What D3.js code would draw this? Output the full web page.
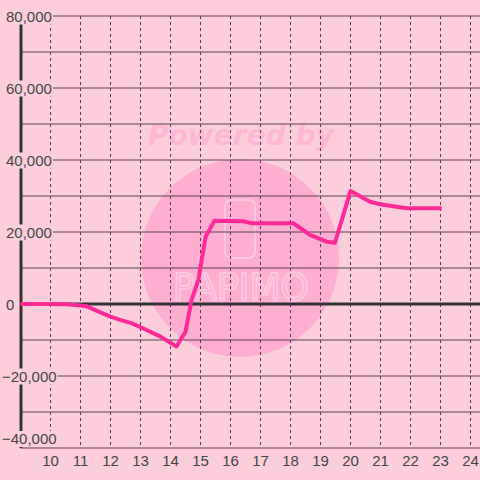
<!DOCTYPE html>
<html><head><meta charset="utf-8">
<script src="https://cdn.jsdelivr.net/npm/d3@7"></script>
<style>html,body{margin:0;padding:0;background:#fccedc;}svg{display:block;}</style>
</head><body><svg id="c" width="480" height="480"></svg>
<script>
const xTicks = [10,11,12,13,14,15,16,17,18,19,20,21,22,23,24];
const yGrid = [-40000,-30000,-20000,-10000,0,10000,20000,30000,40000,50000,60000,70000,80000];
const yLabels = [-40000,-20000,0,20000,40000,60000,80000];
const hours = [9,10,10.5,11,11.2,11.55,12,12.4,12.7,13.15,13.65,14.2,14.5,14.7,14.93,15.17,15.46,16.43,16.72,18.1,18.65,19.2,19.48,20,20.65,20.98,21.87,23.04];
const values = [0,0,-100,-400,-600,-1900,-3500,-4600,-5300,-7000,-9000,-11800,-7700,1000,6700,18700,23100,23000,22400,22400,19200,17300,17000,31400,28400,27700,26600,26600];

const svg = d3.select("#c");
const x = d3.scaleLinear().domain([9,24]).range([20.5,470.5]);
const y = d3.scaleLinear().domain([-40000,80000]).range([448,16]);
const fmt = d3.format(",");

// watermark
svg.append("circle").attr("cx",240).attr("cy",258).attr("r",99).attr("fill","#feaed0");
svg.append("text").attr("x",241).attr("y",145).attr("text-anchor","middle")
  .attr("font-family","DejaVu Sans").attr("font-weight","bold").attr("font-style","italic")
  .attr("font-size",29).attr("textLength",186).attr("lengthAdjust","spacingAndGlyphs")
  .attr("fill","#ffb6d4").text("Powered by");
svg.append("rect").attr("x",225).attr("y",200).attr("width",30).attr("height",58).attr("rx",6)
  .attr("fill","none").attr("stroke","#ffc6df").attr("stroke-width",2);
svg.append("text").attr("x",241).attr("y",300).attr("text-anchor","middle")
  .attr("font-family","DejaVu Sans").attr("font-size",38).attr("textLength",136).attr("lengthAdjust","spacingAndGlyphs")
  .attr("fill","none").attr("stroke","#ffc6df").attr("stroke-width",2).text("PAPIMO");

// vertical dotted grid
svg.append("g").selectAll("line").data(xTicks).join("line")
  .attr("x1",d=>x(d)).attr("x2",d=>x(d)).attr("y1",16).attr("y2",448)
  .attr("stroke","#5a3a4c").attr("stroke-width",1).attr("stroke-dasharray","3,3");
// horizontal grid
svg.append("g").selectAll("line").data(yGrid).join("line")
  .attr("x1",20.5).attr("x2",480).attr("y1",d=>y(d)).attr("y2",d=>y(d))
  .attr("stroke","#5c4052").attr("stroke-width",1);
// zero line
svg.append("line").attr("x1",20.5).attr("x2",480).attr("y1",y(0)).attr("y2",y(0))
  .attr("stroke","#333").attr("stroke-width",3);
// y axis line
svg.append("line").attr("x1",21).attr("x2",21).attr("y1",16).attr("y2",448)
  .attr("stroke","#333").attr("stroke-width",3);

// y labels with background
const yl = svg.append("g").selectAll("g").data(yLabels).join("g");
yl.append("text")
  .attr("x",d=>d<0?2:6)
  .attr("y",d=>Math.min(y(d)+5.5,444))
  .attr("text-anchor","start")
  .attr("font-family","Liberation Sans, Arial").attr("font-size",15).attr("fill","#454545")
  .text(d=>fmt(d))
  .each(function(){
    const b=this.getBBox();
    d3.select(this.parentNode).insert("rect","text").attr("x",b.x-1).attr("y",b.y+1)
      .attr("width",b.width+2).attr("height",b.height-1).attr("fill","#fccedc");
  });

// x labels
svg.append("g").selectAll("text").data(xTicks).join("text")
  .attr("x",d=>x(d)).attr("y",466).attr("text-anchor","middle")
  .attr("font-family","Liberation Sans, Arial").attr("font-size",15).attr("fill","#454545")
  .text(d=>d);

// data line
const line = d3.line().x((d,i)=>x(hours[i])).y((d,i)=>y(values[i]));
svg.append("path").attr("d",line(values)).attr("fill","none")
  .attr("stroke","#ff2a98").attr("stroke-width",4).attr("stroke-linejoin","round");
</script></body></html>
